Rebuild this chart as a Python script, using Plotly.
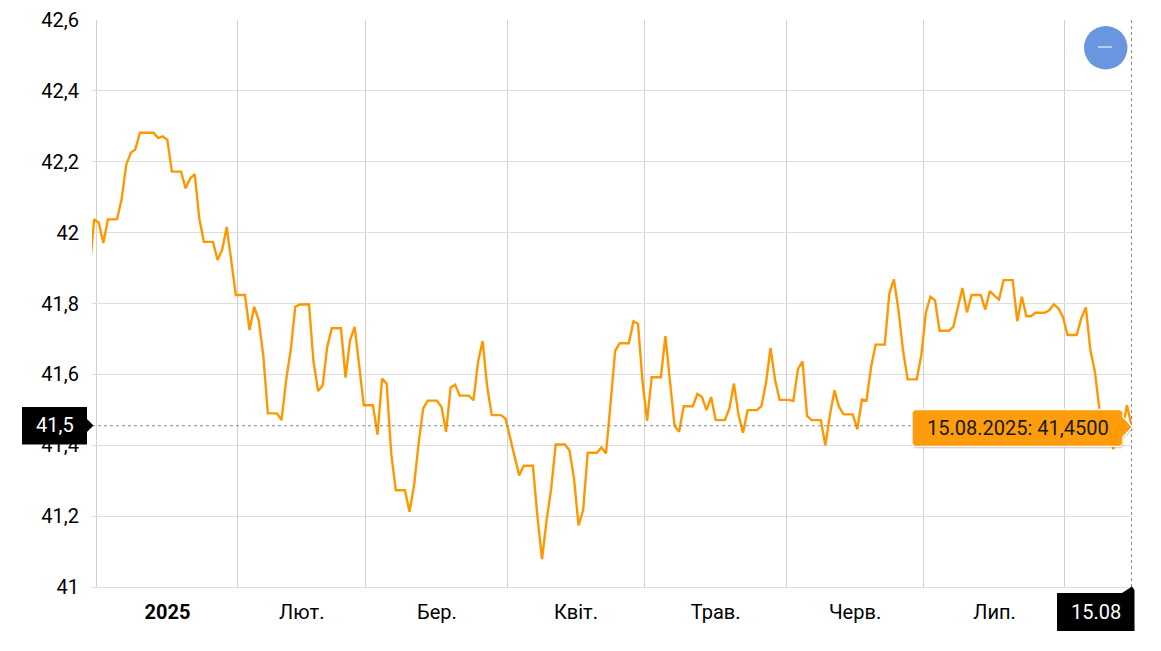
import pandas as pd
import plotly.graph_objects as go

# daily fixing, 30.12.2024 .. 15.08.2025
first_date = "2024-12-30"
values = [
    41.894,
    42.038, 42.028, 41.971, 42.037, 42.038, 42.038, 42.094, 42.191, 42.225, 42.235,
    42.282, 42.282, 42.282, 42.282, 42.267, 42.272, 42.262, 42.172, 42.172, 42.172,
    42.125, 42.153, 42.165, 42.040, 41.974, 41.974, 41.974, 41.923, 41.951, 42.016,
    41.913, 41.824, 41.824, 41.824, 41.725, 41.791, 41.753, 41.654, 41.490, 41.490,
    41.490, 41.471, 41.584, 41.668, 41.791, 41.797, 41.798, 41.798, 41.635, 41.553,
    41.569, 41.678, 41.730, 41.730, 41.730, 41.591, 41.697, 41.734, 41.631, 41.513,
    41.513, 41.513, 41.430, 41.588, 41.574, 41.377, 41.273, 41.273, 41.273, 41.212,
    41.287, 41.405, 41.504, 41.526, 41.526, 41.526, 41.508, 41.438, 41.563, 41.571,
    41.540, 41.540, 41.540, 41.527, 41.635, 41.694, 41.565, 41.485, 41.485, 41.485,
    41.475, 41.419, 41.367, 41.315, 41.342, 41.342, 41.342, 41.198, 41.079, 41.188,
    41.278, 41.402, 41.402, 41.402, 41.386, 41.306, 41.174, 41.217, 41.379, 41.379,
    41.379, 41.394, 41.377, 41.518, 41.666, 41.688, 41.688, 41.688, 41.750, 41.743,
    41.579, 41.469, 41.592, 41.592, 41.592, 41.708, 41.584, 41.455, 41.438, 41.510,
    41.510, 41.510, 41.545, 41.536, 41.499, 41.536, 41.471, 41.471, 41.471, 41.504,
    41.574, 41.485, 41.435, 41.499, 41.499, 41.499, 41.510, 41.574, 41.675, 41.584,
    41.528, 41.528, 41.528, 41.525, 41.615, 41.637, 41.483, 41.471, 41.471, 41.471,
    41.400, 41.485, 41.555, 41.508, 41.487, 41.487, 41.487, 41.445, 41.529, 41.526,
    41.620, 41.684, 41.684, 41.684, 41.828, 41.868, 41.781, 41.668, 41.586, 41.586,
    41.586, 41.654, 41.775, 41.819, 41.809, 41.723, 41.723, 41.723, 41.734, 41.791,
    41.844, 41.775, 41.824, 41.824, 41.824, 41.783, 41.835, 41.822, 41.811, 41.866,
    41.866, 41.866, 41.750, 41.819, 41.764, 41.764, 41.774, 41.774, 41.774, 41.781,
    41.798, 41.786, 41.762, 41.711, 41.711, 41.711, 41.758, 41.789, 41.668, 41.606,
    41.499, 41.457, 41.454, 41.389, 41.454, 41.442, 41.513, 41.455,
]

y_ticks = [41, 41.2, 41.4, 41.6, 41.8, 42, 42.2, 42.4, 42.6]
y_labels = ["41", "41,2", "41,4", "41,6", "41,8", "42", "42,2", "42,4", "42,6"]

month_starts = ["2025-01-01", "2025-02-01", "2025-03-01", "2025-04-01",
                "2025-05-01", "2025-06-01", "2025-07-01", "2025-08-01"]
month_labels = ["<b>2025</b>", "Лют.", "Бер.", "Квіт.", "Трав.", "Черв.", "Лип."]
label_days = ["2025-01-16T01:00", "2025-02-14T10:00", "2025-03-16T00:00", "2025-04-15T10:00",
              "2025-05-16T00:00", "2025-06-15T12:00", "2025-07-16T01:00"]

tooltip_text = "15.08.2025: 41,4500"
y_flag_text = "41,5"
x_flag_text = "15.08"

LINE = "#ff9800"
GRID_H = "#dedede"
GRID_V = "#d0d0d0"
FONT = "Roboto"

# page pixels; the browser puts the figure 8px in from the corner
W, H = 1161, 651
BODY = 8
L, R, T, B = 92, 1132, 20, 587


def px(x):
    return (x - L) / (R - L)


def py(y):
    return (B - y) / (B - T)


def path(points):
    return "M " + " L ".join(f"{px(x):.5f},{py(y):.5f}" for x, y in points) + " Z"


def rounded_tooltip(dx=0, dy=0):
    x0, x1, y0, y1 = 912 + dx, 1123 + dx, 409.5 + dy, 446.5 + dy
    r = 2.5
    return path([(x0 + r, y0), (x1 - r, y0), (x1, y0 + r), (x1, 417 + dy), (1132.5 + dx, 427 + dy),
                 (x1, 437 + dy), (x1, y1 - r), (x1 - r, y1), (x0 + r, y1), (x0, y1 - r),
                 (x0, y0 + r)])


def paper_shape(kind, **kw):
    return dict(type=kind, xref="paper", yref="paper", layer="above", **kw)


def label(x, y, text, color):
    return dict(xref="paper", yref="paper", x=px(x), y=py(y), text=text, showarrow=False,
                xanchor="center", yanchor="middle",
                font=dict(family=FONT, size=20, color=color))


dates = pd.date_range(first_date, periods=len(values), freq="D")
last_date, last_value = dates[-1], values[-1]
# grid sits a little left of the daily points, as in the source chart
grid_days = [pd.Timestamp(d) - pd.Timedelta(hours=14) for d in month_starts]

fig = go.Figure(go.Scatter(
    x=dates, y=values, mode="lines",
    line=dict(color=LINE, width=2.4),
    hoverinfo="skip",
))

shapes = [
    # crosshair
    dict(type="line", xref="paper", yref="y", x0=0, x1=1, y0=last_value, y1=last_value,
         layer="above", line=dict(color="#8a8a8a", width=1, dash="3px,3px")),
    dict(type="line", xref="x", yref="paper", x0=last_date, x1=last_date, y0=0, y1=1,
         layer="above", line=dict(color="#8a8a8a", width=1, dash="3px,3px")),
    # zoom-out button
    paper_shape("circle", x0=px(1084), x1=px(1127.5), y0=py(69.5), y1=py(26),
                fillcolor="#6a96e0", line=dict(width=0)),
    paper_shape("line", x0=px(1098), x1=px(1112), y0=py(47), y1=py(47),
                line=dict(color="white", width=1)),
    # tooltip
    paper_shape("path", path=rounded_tooltip(0.5, 1.5), fillcolor="rgba(0,0,0,0.16)",
                line=dict(color="rgba(0,0,0,0.06)", width=2)),
    paper_shape("path", path=rounded_tooltip(), fillcolor="rgba(255,152,0,0.94)",
                line=dict(color="rgba(255,255,255,0.9)", width=1.5)),
    # y flag
    paper_shape("path", path=path([(22, 407), (87, 407), (87, 419), (93.5, 425.5), (87, 432),
                                   (87, 444.5), (22, 444.5)]),
                fillcolor="black", line=dict(width=0)),
    # x flag
    paper_shape("path", path=path([(1057, 593), (1122, 593), (1132, 586.5), (1134.5, 590),
                                   (1134.5, 631), (1057, 631)]),
                fillcolor="black", line=dict(width=0)),
]

annotations = [
    label(1017.5, 428, tooltip_text, "#1a1a1a"),
    label(54.5, 425, y_flag_text, "white"),
    label(1095.5, 612, x_flag_text, "white"),
]

fig.update_layout(
    width=W - BODY, height=H - BODY,
    margin=dict(l=L - BODY, r=W - R, t=T - BODY, b=H - B, pad=0),
    paper_bgcolor="white", plot_bgcolor="white",
    font=dict(family=FONT, size=20, color="black"),
    showlegend=False,
    shapes=shapes, annotations=annotations,
)
fig.update_xaxes(
    type="date", automargin=False,
    range=["2024-12-30T12:30", "2025-08-15T02:30"],
    tickmode="array", tickvals=label_days, ticktext=month_labels,
    ticks="", showgrid=False, zeroline=False, tickangle=0,
    ticklabelstandoff=7,
    minor=dict(tickmode="array", tickvals=grid_days, showgrid=True,
               gridcolor=GRID_V, gridwidth=1, ticks=""),
    showline=True, linecolor=GRID_H, linewidth=1,
)
fig.update_yaxes(
    automargin=False,
    range=[41, 42.6],
    tickmode="array", tickvals=y_ticks, ticktext=y_labels,
    ticks="", showgrid=True, gridcolor=GRID_H, gridwidth=1, zeroline=False,
    ticklabelstandoff=12,
)

fig.write_html("out.html")
